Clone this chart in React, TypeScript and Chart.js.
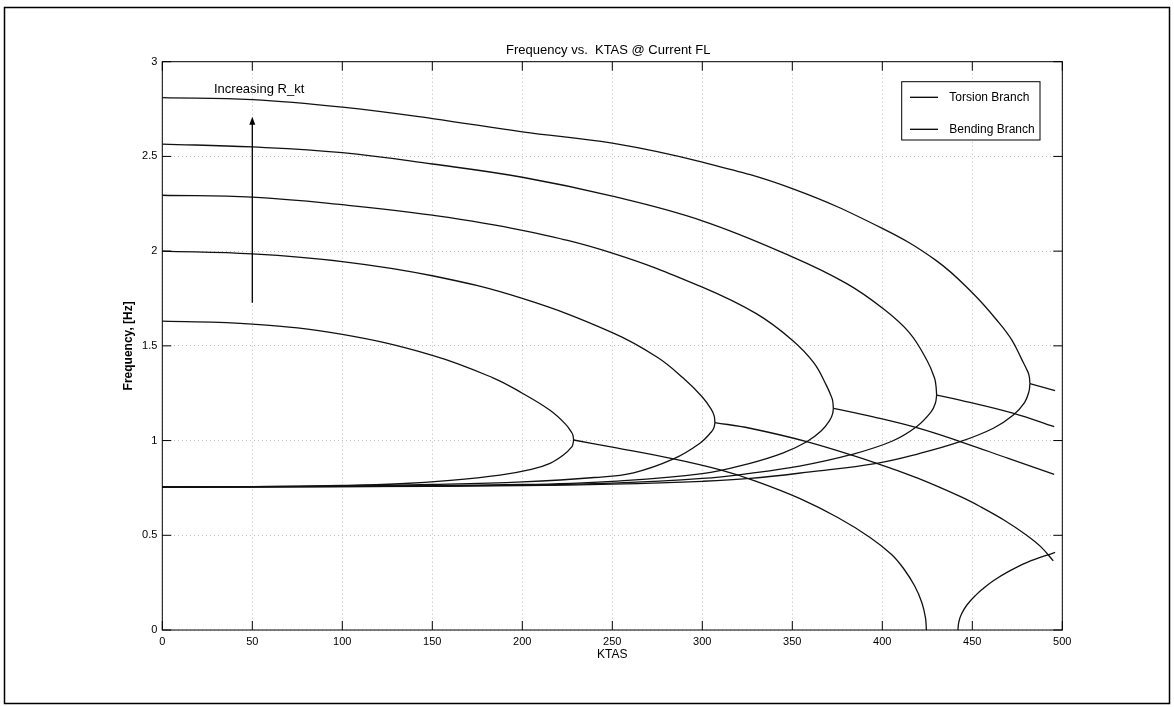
import React, { useEffect, useRef } from "react";
import { Chart, registerables } from "chart.js";

Chart.register(...registerables);

type Pt = [number, number];

// ---- axes ----
const X_MIN = 0;
const X_MAX = 500;
const X_STEP = 50;
const Y_MIN = 0;
const Y_MAX = 3;
const Y_STEP = 0.5;

// ---- texts ----
const TITLE = "Frequency vs.  KTAS @ Current FL";
const X_TITLE = "KTAS";
const Y_TITLE = "Frequency, [Hz]";
const LEGEND_LABELS = ["Torsion Branch", "Bending Branch"];
const ANNOTATION_TEXT = "Increasing R_kt";
const ANNOTATION_AT: Pt = [28.7, 2.855];
const ARROW_X = 50;
const ARROW_FROM = 1.728;
const ARROW_TO = 2.71;

// ---- torsion branches (upper), R_kt increasing ----
const TORSION_R1: Pt[] = [[0, 1.63], [50, 1.615], [100, 1.56], [150, 1.45], [184, 1.33], [200, 1.25], [215.4, 1.16], [224, 1.087], [227.6, 1.04], [228.2, 1.025], [228.5, 1.003]];
const TORSION_R2: Pt[] = [[0, 2.0], [50, 1.985], [100, 1.945], [150, 1.87], [200, 1.75], [250, 1.57], [275, 1.44], [289.4, 1.33], [300, 1.23], [305, 1.165], [306.6, 1.13], [307, 1.095]];
const TORSION_R3: Pt[] = [[0, 2.295], [50, 2.285], [100, 2.245], [150, 2.19], [200, 2.11], [250, 1.99], [300, 1.81], [330, 1.67], [350, 1.53], [362, 1.41], [369, 1.29], [372, 1.225], [372.5, 1.205], [372.8, 1.17]];
const TORSION_R4: Pt[] = [[0, 2.565], [50, 2.55], [100, 2.52], [150, 2.46], [200, 2.39], [250, 2.29], [300, 2.16], [350, 1.97], [380, 1.83], [400, 1.70], [415, 1.57], [425, 1.42], [429, 1.33], [429.8, 1.29], [430.2, 1.24]];
const TORSION_R5: Pt[] = [[0, 2.81], [50, 2.80], [100, 2.76], [150, 2.70], [200, 2.63], [250, 2.57], [300, 2.47], [350, 2.33], [400, 2.12], [430, 1.95], [450, 1.78], [465, 1.62], [472, 1.53], [477.4, 1.43], [481, 1.36], [481.7, 1.335], [482, 1.30]];

// ---- bending branches (lower) ----
const BENDING_R1: Pt[] = [[0, 0.755], [50, 0.757], [100, 0.763], [132, 0.772], [160, 0.79], [187.6, 0.818], [205, 0.848], [215.4, 0.88], [223, 0.925], [227.6, 0.968], [228.2, 0.985], [228.5, 1.003]];
const BENDING_R2: Pt[] = [[0, 0.755], [100, 0.76], [150, 0.768], [200, 0.782], [240, 0.805], [261.8, 0.83], [284, 0.903], [298.7, 0.986], [305, 1.045], [306.5, 1.069], [307, 1.095]];
const BENDING_R3: Pt[] = [[0, 0.755], [100, 0.758], [200, 0.768], [250, 0.785], [300, 0.825], [326.5, 0.88], [345, 0.935], [358, 0.994], [366, 1.05], [371, 1.11], [372.4, 1.142], [372.8, 1.17]];
const BENDING_R4: Pt[] = [[0, 0.755], [100, 0.757], [200, 0.765], [250, 0.775], [300, 0.80], [326.5, 0.827], [354, 0.865], [382, 0.924], [405, 0.995], [419, 1.073], [427, 1.15], [429.5, 1.198], [430.2, 1.24]];
const BENDING_R5: Pt[] = [[0, 0.755], [100, 0.757], [200, 0.762], [250, 0.77], [300, 0.785], [326.5, 0.80], [360, 0.835], [396.9, 0.88], [420, 0.93], [443.2, 0.994], [461.7, 1.065], [472.8, 1.135], [479, 1.20], [481.5, 1.26], [482, 1.30]];

// ---- coalesced branches (after the two branches meet) ----
const MERGED_R1: Pt[] = [[228.5, 1.003], [250, 0.965], [284, 0.903], [310, 0.845], [330, 0.785], [354, 0.695], [375, 0.595], [393, 0.49], [405, 0.40], [411.7, 0.326], [418, 0.232], [422, 0.144], [424, 0.064], [424.5, 0]];
const MERGED_R2: Pt[] = [[307, 1.095], [326.5, 1.065], [358, 0.994], [396.9, 0.88], [420, 0.80], [443.2, 0.705], [454.3, 0.652], [468, 0.578], [480.2, 0.50], [488, 0.44], [495, 0.365]];
const MERGED_R3: Pt[] = [[372.8, 1.17], [395, 1.125], [419.1, 1.068], [443.2, 0.995], [470, 0.906], [495.5, 0.822]];
const MERGED_R4: Pt[] = [[430.2, 1.24], [443.2, 1.214], [473, 1.144], [495.5, 1.073]];
const MERGED_R5: Pt[] = [[482, 1.30], [496, 1.263]];
const DIVERGENCE_R1: Pt[] = [[442, 0], [442.5, 0.042], [444, 0.084], [447, 0.132], [452.4, 0.188], [456, 0.218], [461.7, 0.26], [470, 0.308], [480.2, 0.356], [496, 0.41]];

const TORSION = [TORSION_R1, TORSION_R2, TORSION_R3, TORSION_R4, TORSION_R5];
const BENDING = [BENDING_R1, BENDING_R2, BENDING_R3, BENDING_R4, BENDING_R5];
const MERGED = [MERGED_R1, MERGED_R2, MERGED_R3, MERGED_R4, MERGED_R5, DIVERGENCE_R1];

const FONT = '"Liberation Sans", Arial, Helvetica, sans-serif';
const LINE_COLOR = "#111";

const overlayPlugin = {
  id: "overlay",
  afterDraw(chart: any) {
    const { ctx, chartArea: a, scales } = chart;
    const xs = scales.x;
    const ys = scales.y;
    ctx.save();

    // outer figure frame
    ctx.strokeStyle = "#000";
    ctx.lineWidth = 1.5;
    ctx.strokeRect(4.5, 7.5, 1165, 696);

    // axes box
    ctx.lineWidth = 1;
    ctx.strokeRect(a.left, a.top, a.right - a.left, a.bottom - a.top);

    // inward ticks on all four sides
    ctx.beginPath();
    xs.ticks.forEach((t: any) => {
      const p = xs.getPixelForValue(t.value);
      ctx.moveTo(p, a.bottom);
      ctx.lineTo(p, a.bottom - 9);
      ctx.moveTo(p, a.top);
      ctx.lineTo(p, a.top + 9);
    });
    ys.ticks.forEach((t: any) => {
      const p = ys.getPixelForValue(t.value);
      ctx.moveTo(a.left, p);
      ctx.lineTo(a.left + 9, p);
      ctx.moveTo(a.right, p);
      ctx.lineTo(a.right - 9, p);
    });
    ctx.stroke();

    // titles
    ctx.fillStyle = "#000";
    ctx.font = `13px ${FONT}`;
    ctx.textAlign = "center";
    ctx.textBaseline = "middle";
    ctx.fillText(TITLE, (a.left + a.right) / 2 - 4, a.top - 11);
    ctx.font = `12px ${FONT}`;
    ctx.fillText(X_TITLE, (a.left + a.right) / 2, a.bottom + 25);
    ctx.save();
    ctx.translate(129, (a.top + a.bottom) / 2);
    ctx.rotate(-Math.PI / 2);
    ctx.font = `bold 12px ${FONT}`;
    ctx.fillText(Y_TITLE, 0, 0);
    ctx.restore();

    // annotation
    ctx.textAlign = "left";
    ctx.font = `13px ${FONT}`;
    ctx.fillText(ANNOTATION_TEXT, xs.getPixelForValue(ANNOTATION_AT[0]), ys.getPixelForValue(ANNOTATION_AT[1]));
    const ax = xs.getPixelForValue(ARROW_X);
    const ay0 = ys.getPixelForValue(ARROW_FROM);
    const ay1 = ys.getPixelForValue(ARROW_TO);
    ctx.lineWidth = 1.3;
    ctx.beginPath();
    ctx.moveTo(ax, ay0);
    ctx.lineTo(ax, ay1 + 6);
    ctx.stroke();
    ctx.beginPath();
    ctx.moveTo(ax, ay1);
    ctx.lineTo(ax - 3, ay1 + 8);
    ctx.lineTo(ax + 3, ay1 + 8);
    ctx.closePath();
    ctx.fill();

    // legend box
    const lx = a.right - 160.6;
    const ly = a.top + 20;
    ctx.fillStyle = "#fff";
    ctx.fillRect(lx, ly, 138.3, 58.3);
    ctx.lineWidth = 1;
    ctx.strokeStyle = "#000";
    ctx.strokeRect(lx, ly, 138.3, 58.3);
    ctx.fillStyle = "#000";
    ctx.font = `12px ${FONT}`;
    LEGEND_LABELS.forEach((lab, i) => {
      const yy = ly + 15.6 + i * 32;
      ctx.lineWidth = 1.3;
      ctx.beginPath();
      ctx.moveTo(lx + 8.3, yy);
      ctx.lineTo(lx + 36.3, yy);
      ctx.stroke();
      ctx.fillText(lab, lx + 47.6, yy);
    });

    ctx.restore();
  },
};

export default function App() {
  const ref = useRef<HTMLCanvasElement>(null);

  useEffect(() => {
    const canvas = ref.current;
    if (!canvas) return;
    const mk = (label: string, pts: Pt[]) => ({
      label,
      data: pts.map(([x, y]) => ({ x, y })),
      borderColor: LINE_COLOR,
      borderWidth: 1.3,
      pointRadius: 0,
      fill: false,
      tension: 0.4,
    });
    const datasets = [
      ...TORSION.map((p, i) => mk(`${LEGEND_LABELS[0]} ${i + 1}`, p)),
      ...BENDING.map((p, i) => mk(`${LEGEND_LABELS[1]} ${i + 1}`, p)),
      ...MERGED.map((p, i) => mk(`Coalesced ${i + 1}`, p)),
    ];
    const tickFont = { family: FONT, size: 11 };
    const fmt = (v: any) => `${Number(v)}`;
    const chart = new Chart(canvas, {
      type: "line",
      data: { datasets },
      plugins: [overlayPlugin],
      options: {
        animation: false,
        responsive: false,
        devicePixelRatio: 1,
        layout: { autoPadding: false, padding: { left: 0, top: 61.7, right: 111.7, bottom: 37 } },
        plugins: { legend: { display: false }, tooltip: { enabled: false }, title: { display: false } },
        scales: {
          x: {
            type: "linear",
            min: X_MIN,
            max: X_MAX,
            ticks: { stepSize: X_STEP, color: "#000", font: tickFont, padding: 5, maxRotation: 0, autoSkip: false, callback: fmt },
            grid: { color: "rgba(0,0,0,0.25)", drawTicks: false, lineWidth: 1 },
            border: { display: false, dash: [1, 3] },
            afterFit: (s: any) => { s.height = 40; },
          },
          y: {
            type: "linear",
            min: Y_MIN,
            max: Y_MAX,
            ticks: { stepSize: Y_STEP, color: "#000", font: tickFont, padding: 5, autoSkip: false, callback: fmt },
            grid: { color: "rgba(0,0,0,0.25)", drawTicks: false, lineWidth: 1 },
            border: { display: false, dash: [1, 3] },
            afterFit: (s: any) => { s.width = 162.3; },
          },
        },
      } as any,
    });
    return () => chart.destroy();
  }, []);

  return (
    <div style={{ position: "absolute", left: 0, top: 0, width: 1174, height: 707, background: "#fff" }}>
      <canvas ref={ref} width={1174} height={707} style={{ display: "block" }} />
    </div>
  );
}
